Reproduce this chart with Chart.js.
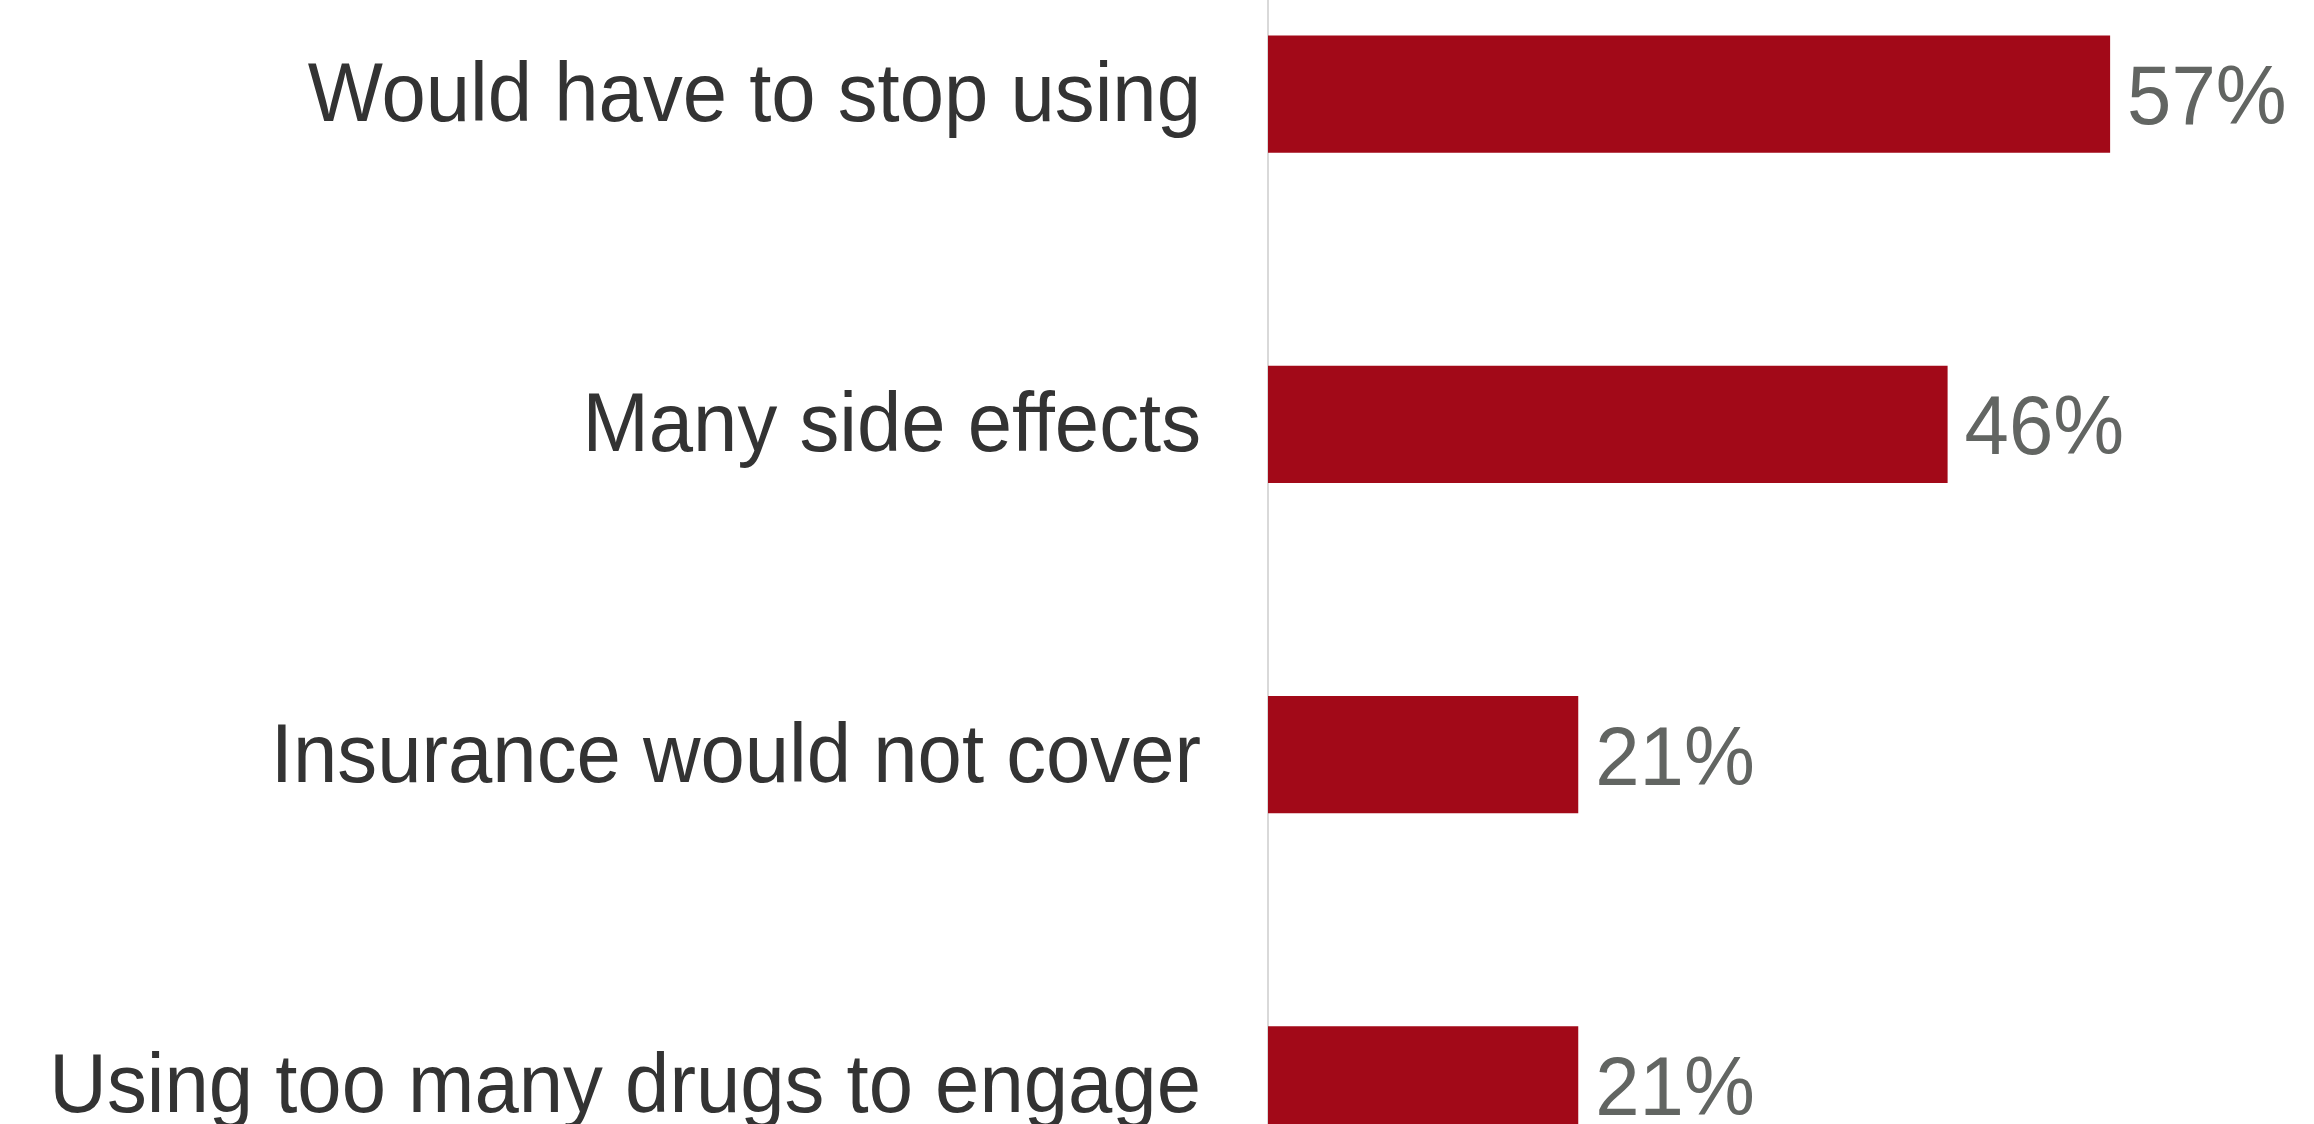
<!DOCTYPE html>
<html lang="en">
<head>
    <meta charset="UTF-8">
    <title>Reasons</title>
    <script src="https://cdn.jsdelivr.net/npm/chart.js"></script>
    <style>
        body {
            margin: 0;
            background: #ffffff;
            overflow: hidden;
        }
        .wrap {
            position: relative;
            width: 2314px;
            height: 1124px;
            overflow: hidden;
        }
        #reasonChart {
            position: absolute;
            left: 0;
            top: -71px;
        }
    </style>
</head>
<body>
    <div class="wrap">
        <canvas id="reasonChart" width="2314" height="1321"></canvas>
    </div>

    <script>
        const categories = [
            "Would have to stop using",
            "Many side effects",
            "Insurance would not cover",
            "Using too many drugs to engage"
        ];
        const shares = [57, 46, 21, 21];

        const barColor = "#a20918";
        const labelFont = "'Liberation Sans', Arial, sans-serif";
        const squeeze = 0.96; // source text is slightly condensed

        // category names left of the axis + value labels right of each bar
        const textLayer = {
            id: "textLayer",
            afterDatasetsDraw(chart) {
                const ctx = chart.ctx;
                const meta = chart.getDatasetMeta(0);
                const yScale = chart.scales.y;
                ctx.save();
                ctx.font = "83px " + labelFont;
                ctx.textBaseline = "alphabetic";

                ctx.fillStyle = "#333333";
                ctx.textAlign = "right";
                categories.forEach((name, i) => {
                    const y = yScale.getPixelForTick(i);
                    ctx.save();
                    ctx.translate(yScale.right - 67, y + 27);
                    ctx.scale(squeeze, 1);
                    ctx.fillText(name, 0, 0);
                    ctx.restore();
                });

                ctx.fillStyle = "#626562";
                ctx.textAlign = "left";
                meta.data.forEach((bar, i) => {
                    ctx.save();
                    ctx.translate(bar.x + 17, bar.y + 30);
                    ctx.scale(squeeze, 1);
                    ctx.fillText(shares[i] + "%", 0, 0);
                    ctx.restore();
                });
                ctx.restore();
            }
        };

        new Chart(document.getElementById("reasonChart"), {
            type: "bar",
            data: {
                labels: categories,
                datasets: [{
                    data: shares,
                    backgroundColor: barColor,
                    borderWidth: 0,
                    categoryPercentage: 1,
                    barPercentage: 0.355
                }]
            },
            options: {
                indexAxis: "y",
                responsive: false,
                animation: false,
                layout: { padding: 0 },
                plugins: {
                    legend: { display: false },
                    tooltip: { enabled: false }
                },
                scales: {
                    x: {
                        display: false,
                        min: 0,
                        max: 70.8
                    },
                    y: {
                        grid: { display: false, drawTicks: false },
                        border: { display: true, color: "#d9d9d9", width: 2 },
                        ticks: { display: false },
                        afterFit(scale) {
                            scale.width = 1268;
                            scale.paddingTop = 0;
                            scale.paddingBottom = 0;
                        }
                    }
                }
            },
            plugins: [textLayer]
        });
    </script>
</body>
</html>
